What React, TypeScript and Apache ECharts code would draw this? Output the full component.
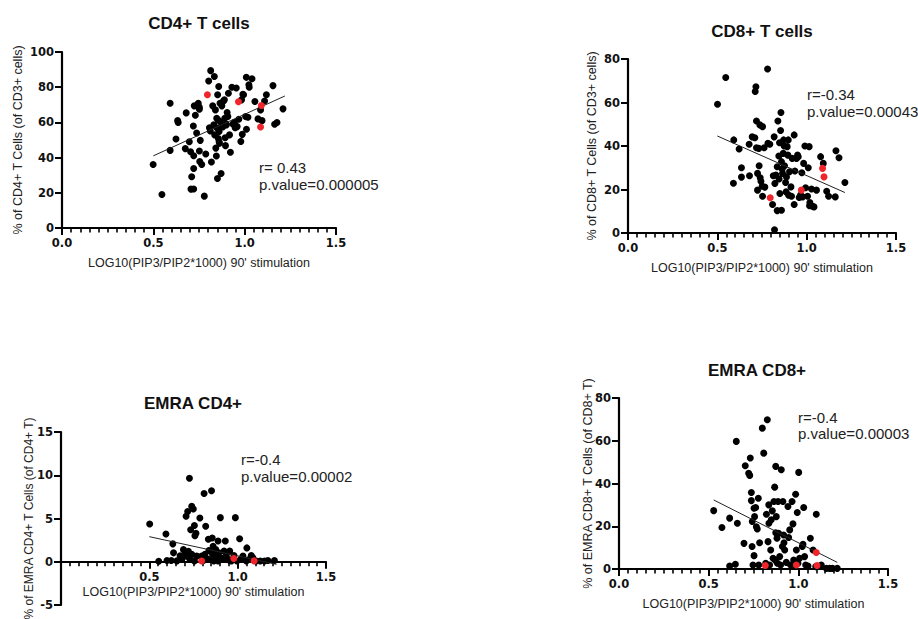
import React, { useEffect, useRef } from "react";
import * as echarts from "echarts";

const FONT = "'Liberation Sans', Arial, sans-serif";
const TICK_FONT = "'DejaVu Sans', sans-serif";

// ---- Panel 1: CD4+ T cells ----
const cd4Black: number[][] = [
  [0.499, 36.1], [0.547, 19.0], [0.592, 70.9], [0.592, 44.1], [0.624, 50.6], [0.633, 61.0], [0.636, 59.9],
  [0.675, 45.1], [0.680, 65.4], [0.697, 49.0], [0.704, 43.3], [0.710, 29.1], [0.706, 22.1], [0.721, 22.2],
  [0.719, 58.0], [0.721, 33.8], [0.721, 41.1], [0.724, 69.4], [0.730, 64.1], [0.737, 54.0], [0.743, 70.0],
  [0.746, 70.9], [0.752, 68.6], [0.752, 67.5], [0.752, 43.7], [0.757, 49.8], [0.754, 37.8], [0.765, 36.1],
  [0.779, 18.1], [0.787, 42.0], [0.803, 83.5], [0.807, 57.0], [0.812, 55.1], [0.814, 89.4], [0.818, 37.5],
  [0.825, 69.4], [0.834, 86.1], [0.831, 58.6], [0.836, 52.9], [0.840, 67.1], [0.842, 45.4], [0.845, 40.9],
  [0.847, 62.4], [0.849, 56.8], [0.851, 28.1], [0.852, 75.7], [0.855, 61.4], [0.856, 50.9], [0.858, 80.4],
  [0.860, 49.0], [0.860, 54.8], [0.862, 48.1], [0.865, 70.9], [0.867, 60.3], [0.871, 31.0], [0.875, 69.4],
  [0.880, 57.4], [0.884, 72.2], [0.889, 72.8], [0.891, 62.4], [0.893, 51.3], [0.895, 46.8], [0.897, 59.1],
  [0.900, 58.6], [0.904, 65.6], [0.908, 63.3], [0.911, 76.6], [0.917, 52.9], [0.922, 43.0], [0.930, 80.0],
  [0.935, 59.1], [0.944, 60.1], [0.948, 57.0], [0.954, 79.5], [0.959, 57.6], [0.968, 61.8], [0.979, 49.2],
  [0.983, 72.8], [0.987, 53.2], [0.990, 76.0], [0.994, 75.7], [1.005, 63.3], [1.009, 85.6], [1.010, 56.1],
  [1.018, 62.9], [1.023, 81.4], [1.025, 80.0], [1.040, 84.8], [1.056, 71.9], [1.073, 62.0], [1.087, 67.1],
  [1.095, 61.0], [1.109, 72.2], [1.119, 75.7], [1.155, 80.9], [1.164, 58.9], [1.177, 59.9], [1.210, 67.7],
];
const cd4Red: number[][] = [[0.796, 75.7], [0.966, 71.7], [1.087, 57.4], [1.091, 69.6]];
const cd4Fit: number[][] = [[0.5, 41.0], [1.22, 75.0]];

// ---- Panel 2: CD8+ T cells ----
const cd8Black: number[][] = [
  [0.501, 59.2], [0.547, 71.5], [0.592, 42.8], [0.590, 22.9], [0.622, 38.6], [0.635, 30.0], [0.635, 25.7],
  [0.678, 40.8], [0.680, 26.3], [0.695, 44.2], [0.710, 43.8], [0.712, 65.1], [0.716, 67.2], [0.719, 51.5],
  [0.719, 39.2], [0.725, 27.4], [0.725, 19.7], [0.732, 38.9], [0.734, 30.9], [0.738, 49.7], [0.740, 25.4],
  [0.744, 23.8], [0.751, 21.5], [0.753, 48.9], [0.753, 16.9], [0.762, 39.2], [0.766, 21.1], [0.783, 41.2],
  [0.781, 75.4], [0.794, 40.8], [0.809, 13.1], [0.813, 26.3], [0.818, 44.2], [0.822, 22.8], [0.820, 1.5],
  [0.828, 26.6], [0.835, 10.3], [0.835, 30.5], [0.839, 51.5], [0.844, 35.4], [0.846, 24.8], [0.848, 41.5],
  [0.850, 18.2], [0.854, 47.1], [0.856, 55.4], [0.859, 10.5], [0.859, 32.8], [0.863, 29.4], [0.865, 27.4],
  [0.869, 36.6], [0.871, 42.8], [0.874, 40.0], [0.876, 30.9], [0.882, 23.2], [0.885, 18.9], [0.887, 25.8],
  [0.891, 39.7], [0.895, 35.8], [0.897, 42.8], [0.899, 17.4], [0.904, 28.2], [0.912, 21.2], [0.915, 16.9],
  [0.919, 34.3], [0.930, 45.1], [0.930, 13.1], [0.934, 28.5], [0.943, 34.3], [0.949, 35.8], [0.953, 35.1],
  [0.958, 16.3], [0.966, 17.4], [0.973, 27.7], [0.977, 16.6], [0.983, 32.0], [0.990, 40.0], [0.994, 20.8],
  [1.005, 16.9], [1.009, 30.0], [1.014, 39.7], [1.016, 12.5], [1.018, 14.0], [1.027, 20.2], [1.033, 12.3],
  [1.041, 12.0], [1.055, 19.7], [1.078, 35.1], [1.093, 32.0], [1.112, 19.2], [1.123, 16.9], [1.160, 16.6],
  [1.164, 37.8], [1.181, 34.6], [1.214, 23.2],
];
const cd8Red: number[][] = [[0.796, 16.2], [0.970, 19.7], [1.089, 29.7], [1.097, 25.8]];
const cd8Fit: number[][] = [[0.5, 44.6], [1.214, 18.6]];

// ---- Panel 3: EMRA CD4+ ----
const emra4Black: number[][] = [
  [0.502, 4.37], [0.553, 0.05], [0.594, 3.2], [0.600, 0.15], [0.624, 0.15], [0.633, 2.07], [0.637, 1.03],
  [0.656, 0.1], [0.674, 0.7], [0.684, 0.27], [0.693, 1.4], [0.702, 0.85], [0.708, 5.25], [0.712, 0.65],
  [0.717, 5.8], [0.721, 1.2], [0.727, 9.65], [0.730, 0.27], [0.734, 3.7], [0.740, 6.4], [0.740, 0.85],
  [0.749, 6.1], [0.755, 4.2], [0.755, 0.08], [0.758, 3.0], [0.764, 3.3], [0.768, 0.65], [0.786, 5.05],
  [0.796, 0.65], [0.806, 0.15], [0.810, 7.9], [0.815, 0.85], [0.819, 4.1], [0.825, 0.35], [0.834, 2.6],
  [0.837, 1.3], [0.839, 0.27], [0.852, 8.2], [0.856, 2.75], [0.857, 0.9], [0.861, 1.8], [0.865, 0.08],
  [0.871, 0.65], [0.876, 1.4], [0.880, 0.27], [0.889, 2.4], [0.889, 0.08], [0.893, 1.03], [0.902, 5.1],
  [0.904, 0.46], [0.914, 0.27], [0.923, 1.23], [0.930, 2.4], [0.936, 0.65], [0.945, 0.27], [0.955, 1.23],
  [0.955, 0.15], [0.964, 0.08], [0.974, 0.35], [0.979, 0.73], [0.987, 5.1], [0.996, 0.08], [1.011, 2.65],
  [1.020, 0.35], [1.030, 0.65], [1.049, 0.08], [1.052, 1.6], [1.064, 0.27], [1.077, 0.73], [1.086, 0.46],
  [1.105, 0.08], [1.128, 0.08], [1.152, 0.08], [1.171, 0.15], [1.208, 0.15],
];
const emra4Red: number[][] = [[0.796, 0.08], [0.978, 0.38], [1.093, 0.1]];
const emra4Fit: number[][] = [[0.5, 2.9], [1.22, -0.3]];

// ---- Panel 4: EMRA CD8+ ----
const emra8Black: number[][] = [
  [0.528, 27.3], [0.574, 19.4], [0.617, 23.8], [0.617, 1.4], [0.649, 2.2], [0.654, 59.7], [0.660, 21.4],
  [0.697, 12.0], [0.704, 48.3], [0.723, 44.8], [0.729, 43.8], [0.732, 51.9], [0.738, 35.8], [0.738, 32.0],
  [0.742, 10.5], [0.743, 22.2], [0.747, 1.9], [0.753, 28.4], [0.753, 6.25], [0.756, 24.5], [0.762, 28.75],
  [0.766, 19.8], [0.771, 18.75], [0.777, 33.1], [0.779, 1.9], [0.784, 12.3], [0.799, 65.9], [0.807, 54.2],
  [0.818, 2.7], [0.822, 25.6], [0.827, 69.8], [0.831, 12.8], [0.835, 30.0], [0.836, 21.4], [0.840, 1.9],
  [0.846, 8.9], [0.849, 23.0], [0.855, 27.2], [0.859, 5.0], [0.864, 31.6], [0.868, 38.3], [0.870, 4.2],
  [0.874, 48.0], [0.874, 17.0], [0.877, 24.5], [0.881, 14.4], [0.883, 2.7], [0.887, 31.6], [0.890, 16.7],
  [0.896, 5.8], [0.901, 1.9], [0.905, 46.4], [0.911, 10.5], [0.914, 31.6], [0.918, 15.9], [0.920, 12.3],
  [0.924, 8.9], [0.933, 3.1], [0.942, 29.2], [0.946, 14.7], [0.952, 18.3], [0.957, 1.9], [0.965, 31.6],
  [0.970, 21.1], [0.974, 4.2], [0.980, 1.9], [0.985, 35.0], [0.989, 8.9], [0.994, 26.4], [0.998, 2.7],
  [1.002, 45.2], [1.007, 5.0], [1.022, 10.5], [1.026, 11.6], [1.030, 28.75], [1.035, 5.8], [1.041, 1.9],
  [1.054, 1.4], [1.067, 14.4], [1.082, 8.9], [1.097, 1.1], [1.100, 25.6], [1.128, 1.9], [1.156, 0.3],
  [1.175, 0.3], [1.190, 0.3], [1.217, 0.3],
];
const emra8Red: number[][] = [[0.816, 1.6], [0.989, 1.9], [1.100, 7.7], [1.104, 1.6]];
const emra8Fit: number[][] = [[0.528, 32.3], [1.217, 3.1]];

const xTicks = [0, 0.5, 1.0, 1.5];
const titles = ["CD4+ T cells", "CD8+ T cells", "EMRA CD4+", "EMRA CD8+"];
const yNames = [
  "% of CD4+ T Cells (of CD3+ cells)",
  "% of CD8+ T Cells (of CD3+ cells)",
  "% of EMRA CD4+ T Cells (of CD4+ T)",
  "% of EMRA CD8+ T Cells (of CD8+ T)",
];
const xName = "LOG10(PIP3/PIP2*1000) 90' stimulation";
const rTexts = ["r= 0.43", "r=-0.34", "r=-0.4", "r=-0.4"];
const pTexts = ["p.value=0.000005", "p.value=0.00043", "p.value=0.00002", "p.value=0.00003"];
const yRanges = [
  { min: 0, max: 100, interval: 20 },
  { min: 0, max: 80, interval: 20 },
  { min: -5, max: 15, interval: 5 },
  { min: 0, max: 80, interval: 20 },
];

const blacks = [cd4Black, cd8Black, emra4Black, emra8Black];
const reds = [cd4Red, cd8Red, emra4Red, emra8Red];
const fits = [cd4Fit, cd8Fit, emra4Fit, emra8Fit];

// layout (pixels)
const grids = [
  { left: 62, top: 52, width: 274, height: 176 },
  { left: 628, top: 59, width: 268, height: 174 },
  { left: 61, top: 432, width: 265, height: 173 },
  { left: 619, top: 398, width: 269, height: 171 },
];
// panel 3's x axis sits on y = 0, which is 5/20 of the grid height above the bottom
const xOffsets = [0, 0, -(173 * 5) / 20, 0];
const titlePos = [[199, 23], [762, 31], [193, 403], [757, 370]];
const rPos = [[259, 167], [807, 94], [241, 459], [798, 417]];
const pPos = [[259, 184], [807, 111], [241, 476], [798, 433]];
const yNameGaps = [38, 30, 26, 25];
const xNameGaps = [28, 28, 24, 28];
const xLabelMargins = [9, 9, 9, 9];
const AX = "#000";

export default function App() {
  const ref = useRef<HTMLDivElement>(null);
  useEffect(() => {
    if (!ref.current) return;
    const chart = echarts.init(ref.current, undefined, { renderer: "svg" });
    const option: any = {
      animation: false,
      grid: grids.map((g) => ({ ...g, outerBoundsMode: "none" })),
      xAxis: grids.map((_, i) => ({
        type: "value",
        gridIndex: i,
        min: 0,
        max: 1.5,
        interval: 0.5,
        position: "bottom",
        offset: xOffsets[i],
        axisLine: { show: true, onZero: false, lineStyle: { color: AX, width: 2.2 } },
        axisTick: { show: true, length: 7, lineStyle: { color: AX, width: 2 } },
        minorTick: { show: true, splitNumber: 10, length: 4.5, lineStyle: { color: AX, width: 1.6 } },
        splitLine: { show: false },
        axisLabel: {
          color: "#111",
          fontWeight: "bold",
          fontSize: 11.5,
          fontFamily: TICK_FONT,
          margin: xLabelMargins[i],
          formatter: (v: number) => (i === 2 && v === 0 ? "" : xTicks.includes(v) ? v.toFixed(1) : ""),
        },
        name: xName,
        nameLocation: "middle",
        nameGap: xNameGaps[i],
        nameMoveOverlap: false,
        nameTextStyle: { fontSize: 12.5, color: "#222", fontFamily: FONT },
      })),
      yAxis: grids.map((_, i) => ({
        type: "value",
        gridIndex: i,
        ...yRanges[i],
        axisLine: { show: true, onZero: false, lineStyle: { color: AX, width: 2.2 } },
        axisTick: { show: true, length: 7, lineStyle: { color: AX, width: 2 } },
        splitLine: { show: false },
        axisLabel: { color: "#111", fontWeight: "bold", fontSize: 11.5, fontFamily: TICK_FONT, margin: 8 },
        name: yNames[i],
        nameLocation: "middle",
        nameRotate: 90,
        nameGap: yNameGaps[i],
        nameMoveOverlap: false,
        nameTextStyle: { fontSize: i === 2 ? 12 : 12.5, color: "#222", fontFamily: FONT },
      })),
      series: grids.flatMap((_, i) => [
        {
          type: "scatter",
          xAxisIndex: i,
          yAxisIndex: i,
          data: blacks[i],
          symbolSize: 7,
          itemStyle: { color: "#000", opacity: 1 },
          z: 2,
        },
        {
          type: "line",
          xAxisIndex: i,
          yAxisIndex: i,
          data: fits[i],
          symbol: "none",
          lineStyle: { color: "#222", width: 1 },
          z: 3,
        },
        {
          type: "scatter",
          xAxisIndex: i,
          yAxisIndex: i,
          data: reds[i],
          symbolSize: 7,
          itemStyle: { color: "#f0242b", opacity: 1 },
          z: 4,
        },
      ]),
      graphic: [
        ...titles.map((t, i) => ({
          type: "text",
          x: titlePos[i][0],
          y: titlePos[i][1],
          style: {
            text: t,
            font: `bold 17px ${FONT}`,
            fill: "#111",
            textAlign: "center",
            textVerticalAlign: "middle",
          },
        })),
        ...rTexts.map((t, i) => ({
          type: "text",
          x: rPos[i][0],
          y: rPos[i][1],
          style: { text: t, font: `15px ${FONT}`, fill: "#222", textAlign: "left", textVerticalAlign: "middle" },
        })),
        ...pTexts.map((t, i) => ({
          type: "text",
          x: pPos[i][0],
          y: pPos[i][1],
          style: { text: t, font: `15px ${FONT}`, fill: "#222", textAlign: "left", textVerticalAlign: "middle" },
        })),
      ],
    };
    chart.setOption(option);
    return () => chart.dispose();
  }, []);
  return (
    <div
      ref={ref}
      style={{ position: "absolute", left: 0, top: 0, width: 918, height: 619, background: "#fff" }}
    />
  );
}
